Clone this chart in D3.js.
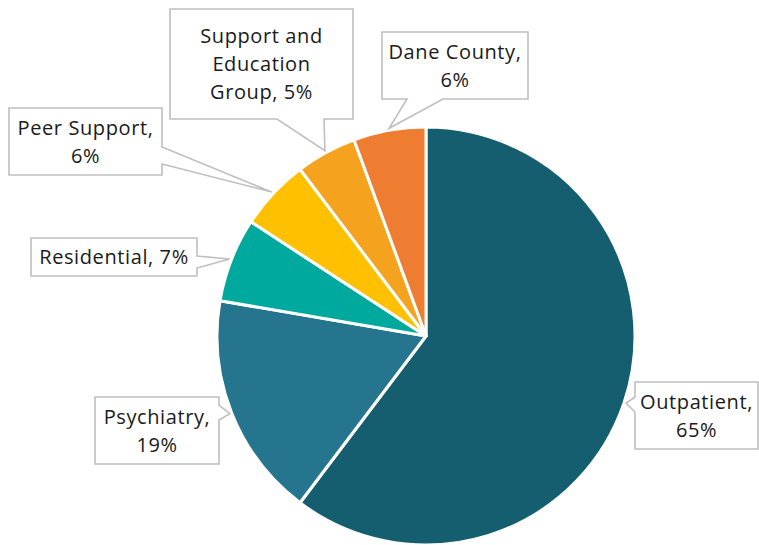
<!DOCTYPE html>
<html>
<head>
<meta charset="utf-8">
<script src="https://cdn.jsdelivr.net/npm/d3@7"></script>
<style>
  html, body { margin: 0; padding: 0; background: #fff; }
  svg { display: block; }
  .callout text { font-family: "Open Sans", sans-serif; font-size: 20px; letter-spacing: 0.6px; fill: #1a1a1a; }
</style>
</head>
<body>
<div id="chart"></div>
<script>
'use strict';

var categories = ['Outpatient', 'Psychiatry', 'Residential', 'Peer Support', 'Support and Education Group', 'Dane County'];
var shares = [60.3, 17.4, 6.5, 5.5, 4.7, 5.6];
var pctLabels = [65, 19, 7, 6, 5, 6];
var colors = ['#145e6f', '#25758f', '#00a99d', '#ffc000', '#f5a21f', '#ee7d31'];

var width = 759, height = 545;
var center = { x: 426, y: 336 };
var radius = 209;

// callout boxes: where each label box sits, how wide its text may run,
// and which edge its pointer leaves from
var boxes = [
    { x: 635, y: 382, w: 123, h: 67, wrap: 115, side: 'left', base: [397, 412] },
    { x: 95, y: 397, w: 124, h: 67, wrap: 115, side: 'right', base: [405, 420] },
    { x: 31, y: 238, w: 166, h: 38, wrap: 162, side: 'right', base: [256, 268] },
    { x: 9, y: 108, w: 153, h: 67, wrap: 145, side: 'right', base: [147, 164] },
    { x: 170, y: 9, w: 183, h: 110, wrap: 130, side: 'bottom', base: [277, 324] },
    { x: 382, y: 32, w: 146, h: 67, wrap: 140, side: 'bottom', base: [407, 443] }
];

var svg = d3.select('#chart').append('svg')
    .attr('width', width)
    .attr('height', height);

var pie = d3.pie().sort(null).value(function(d) { return d; });
var arcs = pie(shares);

var arc = d3.arc().innerRadius(0).outerRadius(radius);
var tipArc = d3.arc().innerRadius(radius + 2).outerRadius(radius + 2);

var g = svg.append('g')
    .attr('transform', 'translate(' + center.x + ',' + center.y + ')');

g.selectAll('path.slice')
    .data(arcs)
    .enter().append('path')
    .attr('class', 'slice')
    .attr('d', arc)
    .style('fill', function(d, i) { return colors[i]; })
    .style('stroke', '#fff')
    .style('stroke-width', 3)
    .style('stroke-linejoin', 'round');

function calloutPath(b, tip) {
    var x0 = b.x, y0 = b.y, x1 = b.x + b.w, y1 = b.y + b.h;
    var p = [];
    p.push([x0, y0]);
    p.push([x1, y0]);
    if (b.side === 'right') {
        p.push([x1, b.base[0]], tip, [x1, b.base[1]]);
    }
    p.push([x1, y1]);
    if (b.side === 'bottom') {
        p.push([b.base[1], y1], tip, [b.base[0], y1]);
    }
    p.push([x0, y1]);
    if (b.side === 'left') {
        p.push([x0, b.base[1]], tip, [x0, b.base[0]]);
    }
    return 'M' + p.map(function(q) { return q[0] + ',' + q[1]; }).join('L') + 'Z';
}

var callouts = svg.selectAll('g.callout')
    .data(arcs)
    .enter().append('g')
    .attr('class', 'callout');

callouts.append('path')
    .attr('d', function(d, i) {
        var c = tipArc.centroid(d);
        return calloutPath(boxes[i], [center.x + c[0], center.y + c[1]]);
    })
    .style('fill', '#fff')
    .style('stroke', '#bfbfbf')
    .style('stroke-width', 1.6);

var lineHeight = 28;

callouts.each(function(d, i) {
    var b = boxes[i];
    var node = d3.select(this);
    var text = node.append('text').attr('text-anchor', 'middle');
    var words = (categories[i] + ', ' + pctLabels[i] + '%').split(' ');
    var lines = [];
    var cur = '';
    var probe = text.append('tspan');
    words.forEach(function(w) {
        var trial = cur ? cur + ' ' + w : w;
        probe.text(trial);
        if (cur && probe.node().getComputedTextLength() > b.wrap) {
            lines.push(cur);
            cur = w;
        } else {
            cur = trial;
        }
    });
    lines.push(cur);
    probe.remove();

    var cx = b.x + b.w / 2;
    var cy = b.y + b.h / 2;
    lines.forEach(function(l, k) {
        text.append('tspan')
            .attr('x', cx)
            .attr('y', cy + (k - (lines.length - 1) / 2) * lineHeight + 7)
            .text(l);
    });
});
</script>
</body>
</html>
